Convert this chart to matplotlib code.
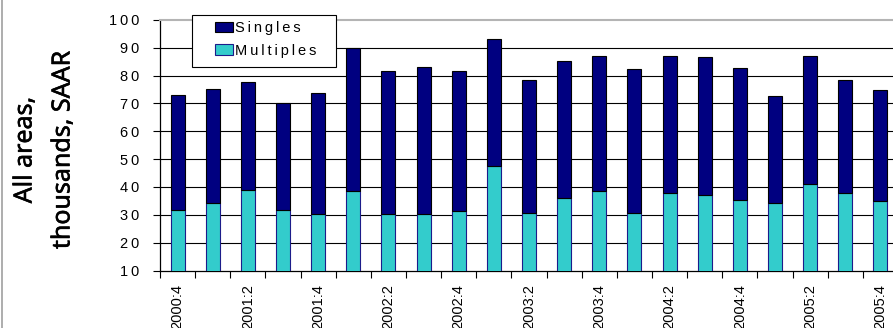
import matplotlib
matplotlib.use("Agg")
import matplotlib.pyplot as plt
import matplotlib.patheffects as pe
from matplotlib.lines import Line2D
from matplotlib.patches import Rectangle, Patch
import numpy as np

plt.rcParams['font.family'] = ['Liberation Sans', 'DejaVu Sans']

quarters = ["2000:4",
            "2001:1", "2001:2", "2001:3", "2001:4",
            "2002:1", "2002:2", "2002:3", "2002:4",
            "2003:1", "2003:2", "2003:3", "2003:4",
            "2004:1", "2004:2", "2004:3", "2004:4",
            "2005:1", "2005:2", "2005:3", "2005:4"]
multiples = [31.9, 34.3, 39.1, 31.9, 30.3, 38.6, 30.3, 30.4, 31.2, 47.7, 30.8,
             36.2, 38.4, 30.5, 37.8, 37.3, 35.3, 34.3, 41.1, 37.8, 34.8]
singles = [41.0, 40.8, 38.5, 38.1, 43.3, 51.5, 51.5, 52.7, 50.5, 45.6, 47.8,
           48.9, 48.8, 51.8, 49.4, 49.4, 47.5, 38.5, 46.1, 40.8, 40.1]
y_ticks = [10, 20, 30, 40, 50, 60, 70, 80, 90, 100]

NAVY = "#000080"
CYAN = "#33CCCC"
TSP = "\u2009"


def spaced(s):
    return TSP.join(s)


W, H = 893, 328
fig = plt.figure(figsize=(W / 100, H / 100), dpi=100)
ax = fig.add_axes([160 / W, 1 - 270.5 / H, 738 / W, 250.5 / H])

x = np.arange(len(quarters))
ax.bar(x, multiples, width=0.4, color=CYAN, edgecolor="#1c1c8a",
       linewidth=0.8, zorder=3)
ax.bar(x, singles, width=0.4, bottom=multiples, color=NAVY,
       edgecolor="black", linewidth=0.8, zorder=3)

ax.set_xlim(-0.5, len(quarters) - 0.5)
ax.set_ylim(10, 100)

# y axis
ax.set_yticks(y_ticks)
ax.set_yticklabels([spaced(str(v)) for v in y_ticks], fontsize=10.5)
ax.tick_params(axis="y", length=5, width=0.8, pad=10, color="black")
for v in y_ticks[1:-1]:
    ax.axhline(v, color="black", linewidth=0.8, zorder=1)

# x axis: tick marks between bars, labels on every other bar
ax.set_xticks(np.arange(len(quarters) + 1) - 0.5)
ax.set_xticklabels([])
ax.tick_params(axis="x", which="major", length=5, width=0.8, direction="out")
lab_pos = x[::2]
ax.set_xticks(lab_pos, minor=True)
ax.set_xticklabels([quarters[i] for i in lab_pos], minor=True,
                   rotation=90, fontsize=10.5, va="top")
ax.tick_params(axis="x", which="minor", length=0, pad=9.5)

ax.spines["left"].set_linewidth(0.9)
ax.spines["bottom"].set_linewidth(0.9)
ax.spines["top"].set_color("#b4b4b4")
ax.spines["top"].set_linewidth(1.5)
ax.spines["right"].set_visible(False)

# legend: white boxed panel with the two series swatches
fig.add_artist(Rectangle((192 / W, 1 - 67 / H), 144 / W, 52 / H,
                         transform=fig.transFigure, facecolor="white",
                         edgecolor="black", linewidth=0.8, zorder=4))
handles = [Patch(facecolor=NAVY, edgecolor="black", linewidth=0.8),
           Patch(facecolor=CYAN, edgecolor="#1c1c8a", linewidth=0.8)]
leg = fig.legend(handles, [spaced("Singles"), spaced("Multiples")],
                 loc="upper left", bbox_to_anchor=(215 / W, 1 - 21 / H),
                 borderaxespad=0, borderpad=0, fontsize=10.5, frameon=False,
                 handlelength=1.25, handleheight=0.75, handletextpad=0.15,
                 labelspacing=0.6)
leg.set_zorder(5)

ylab_style = dict(rotation=90, fontsize=18, family=["Noto Sans", "DejaVu Sans"],
                  ha="center", va="center",
                  path_effects=[pe.withStroke(linewidth=0.4, foreground="black")])
fig.text(25 / W, 1 - 150 / H, "All areas,", **ylab_style)
fig.text(63 / W, 1 - 150 / H, "thousands, SAAR", **ylab_style)

fig.add_artist(Line2D([1.5 / W, 1.5 / W], [0, 1], color="#a0a0a0",
                      linewidth=1.2, transform=fig.transFigure))

fig.savefig("out.png", dpi=100)
